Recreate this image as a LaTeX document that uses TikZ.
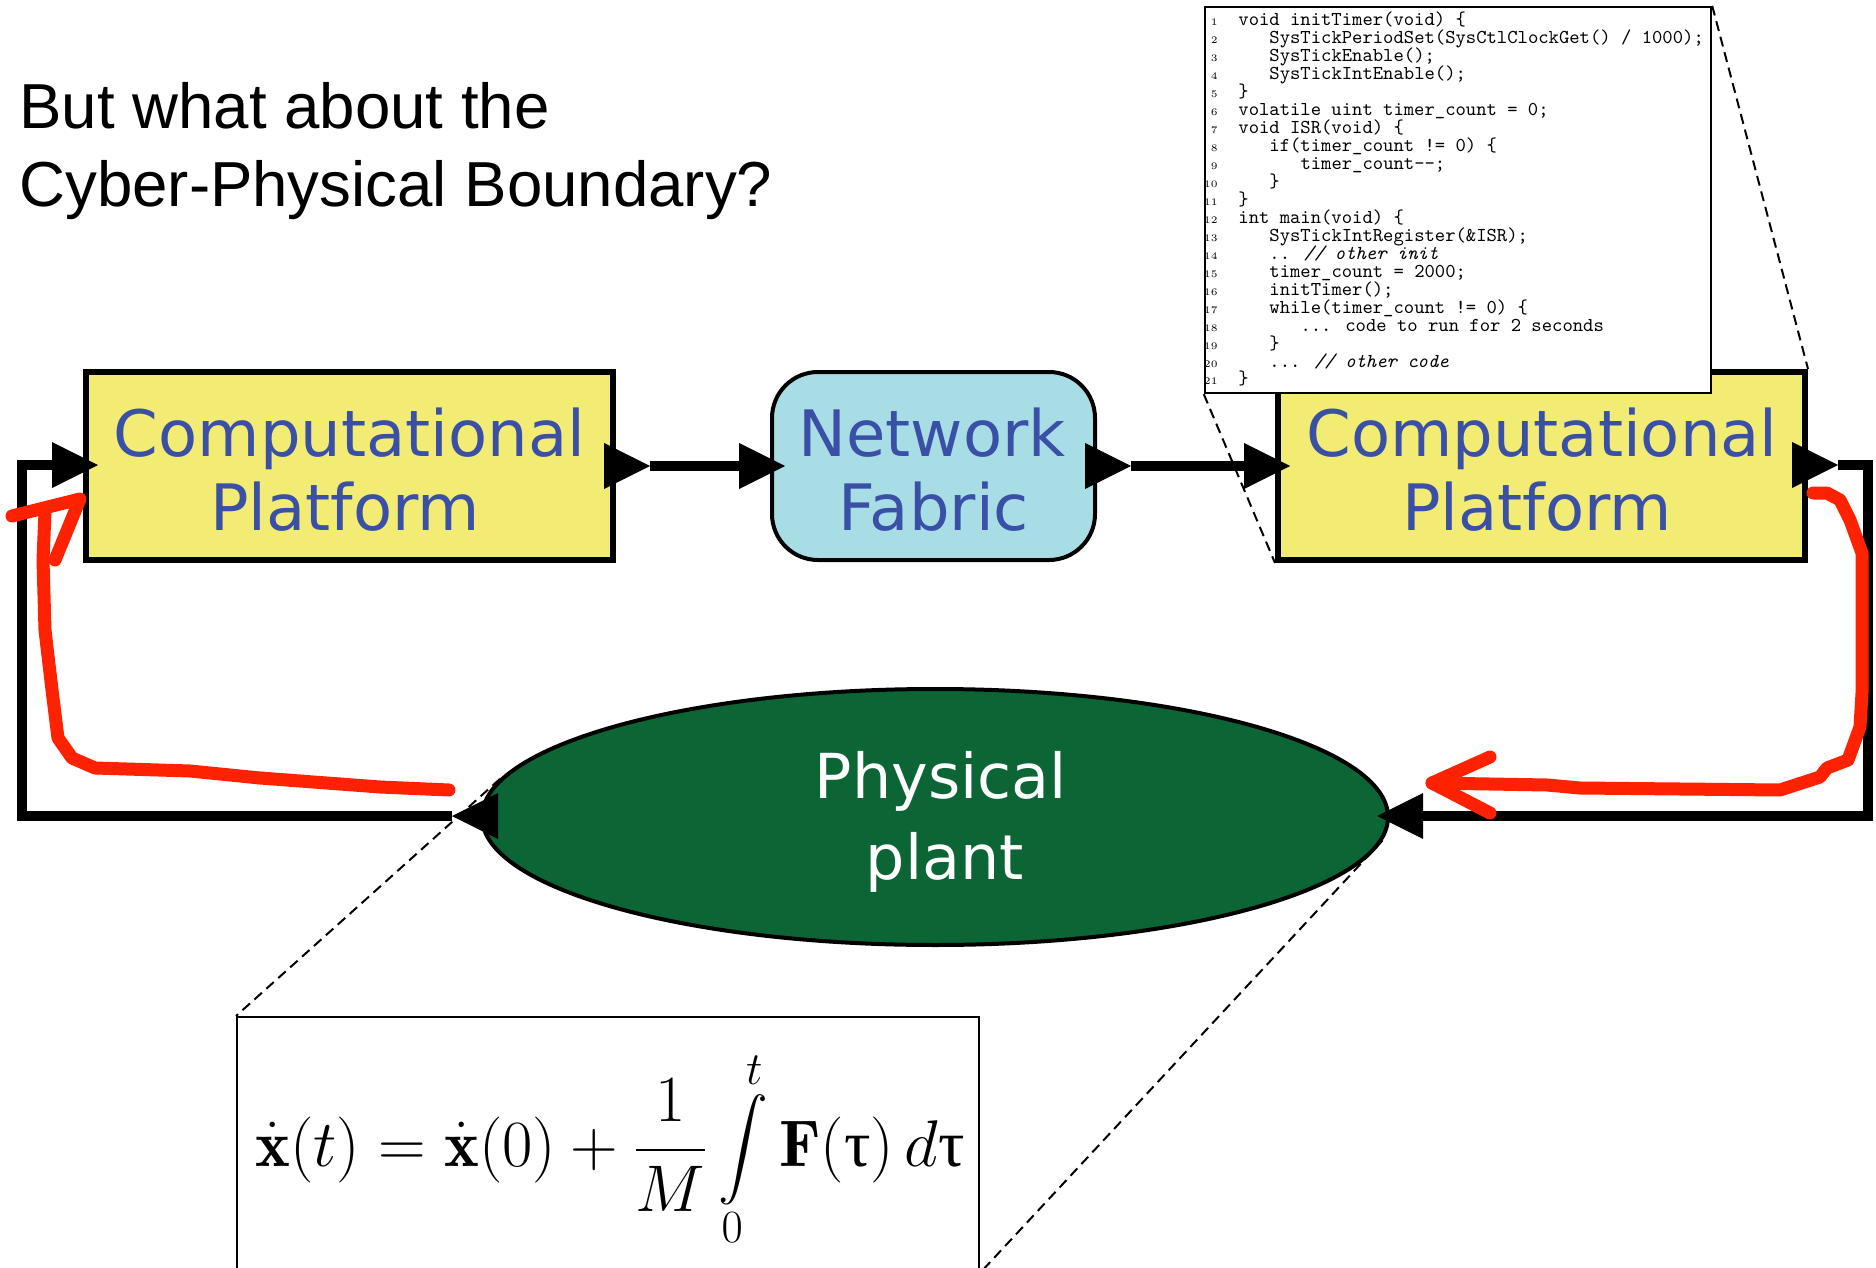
\RequirePackage{fix-cm}
\documentclass[tikz,border=0pt]{standalone}
\usepackage{amsmath}
\usepackage{exscale}
\usepackage{fontspec}
\newfontfamily\boxfont{DejaVu Sans}
\newfontfamily\titlefont{Liberation Sans}
\newfontfamily\grkfont{Liberation Serif}
\usetikzlibrary{shapes.geometric}
\definecolor{cpyellow}{HTML}{F2EC75}
\definecolor{nfblue}{HTML}{A8DDE5}
\definecolor{textblue}{HTML}{3A4FA6}
\definecolor{plantgreen}{HTML}{0B6534}
\definecolor{markred}{HTML}{FF2200}
\newcommand\codefont{\ttfamily\fontsize{9.85}{9.85}\selectfont}
\newcommand\codeln[3]{%
  \node[lnum] (n#1) at (1218, 8+#1*17.95) {#1};
  \node[codeline] (c#1) at (1238+#2*31.05, 8+#1*17.95) {#3};
}
\begin{document}
\begin{tikzpicture}[x=0.5pt,y=-0.5pt,
  cpbox/.style={draw=black, line width=3pt, fill=cpyellow, minimum width=263.5pt, minimum height=94pt, inner sep=0},
  nfbox/.style={draw=black, line width=2pt, fill=nfblue, rounded corners=23pt, minimum width=161.5pt, minimum height=94pt, inner sep=0},
  plantshape/.style={ellipse, draw=black, line width=2pt, fill=plantgreen, minimum width=453pt, minimum height=128pt, inner sep=0},
  boxtext/.style={anchor=base, inner sep=0, text=textblue, font=\boxfont\fontsize{32}{32}\selectfont},
  planttext/.style={anchor=base, inner sep=0, text=white, font=\boxfont\fontsize{31}{31}\selectfont},
  titletext/.style={anchor=base west, inner sep=0, font=\titlefont\fontsize{31.8}{31.8}\selectfont},
  wire/.style={line width=5pt, draw=black},
  zoomline/.style={draw=black, line width=1pt, dash pattern=on 5pt off 3pt},
  redstroke/.style={draw=markred, line width=6.5pt, line cap=round, line join=round},
  codeline/.style={anchor=base west, inner sep=0, font=\codefont},
  lnum/.style={anchor=base east, inner sep=0, font=\fontsize{5}{5}\selectfont},
  portright/.pic={\fill[black] (0,0) -- (-46,-23) -- (-46,23) -- cycle;},
  portleft/.pic={\fill[black] (0,0) -- (46,-23) -- (46,23) -- cycle;},
]
\fill[white] (0,0) rectangle (1876,1268);
\useasboundingbox (0,0) rectangle (1876,1268);

% title
\node[titletext] (t1) at (19,129) {But what about the};
\node[titletext] (t2) at (19,206) {Cyber-Physical Boundary?};

% actors
\node[cpbox] (lcp) at (349.5,466) {};
\node[nfbox] (nf) at (933.5,466) {};
\node[cpbox] (rcp) at (1541.5,466) {};
\node[plantshape] (plant) at (935,817) {};

\node[boxtext] (lcp1) at (349.5,456) {Computational};
\node[boxtext] (lcp2) at (345,530) {Platform};
\node[boxtext] (nf1) at (932,456) {Network};
\node[boxtext] (nf2) at (934,530) {Fabric};
\node[boxtext] (rcp1) at (1542,456) {Computational};
\node[boxtext] (rcp2) at (1537,530) {Platform};
\node[planttext] (pl1) at (941,798) {Physical};
\node[planttext] (pl2) at (945,879) {plant};

% port coordinates
\coordinate (lcpOut) at (650,466);
\coordinate (nfInB) at (739,466);
\coordinate (nfInT) at (785,466);
\coordinate (nfOut) at (1131,466);
\coordinate (rcpInB) at (1244,466);
\coordinate (rcpInT) at (1290,466);
\coordinate (rcpOut) at (1838,465);
\coordinate (rfbA) at (1868,465);
\coordinate (rfbB) at (1868,816);
\coordinate (plantInB) at (1423,816);
\coordinate (plantInT) at (1377,816);
\coordinate (plantOut) at (452,816);
\coordinate (lfbA) at (22,816);
\coordinate (lfbB) at (22,465);
\coordinate (lcpInB) at (52,465);
\coordinate (lcpInT) at (98,465);

% wires
\draw[wire] (lcpOut) -- (nfInB);
\draw[wire] (nfOut) -- (rcpInB);
\draw[wire] (rcpOut) -- (rfbA) -- (rfbB) -- (plantInB);
\draw[wire] (plantOut) -- (lfbA) -- (lfbB) -- (lcpInB);

% ports
\pic (pa) at (lcpOut) {portright};
\pic (pb) at (nfInT) {portright};
\pic (pc) at (nfOut) {portright};
\pic (pd) at (rcpInT) {portright};
\pic (pe) at (rcpOut) {portright};
\pic (pf) at (plantInT) {portleft};
\pic (pg) at (plantOut) {portleft};
\pic (ph) at (lcpInT) {portright};

% code listing
\node[draw=black, line width=1.2pt, fill=white, minimum width=253pt, minimum height=193pt, inner sep=0] (code) at (1458,200) {};
\codeln{1}{0}{void initTimer(void) \{}
\codeln{2}{1}{SysTickPeriodSet(SysCtlClockGet() / 1000);}
\codeln{3}{1}{SysTickEnable();}
\codeln{4}{1}{SysTickIntEnable();}
\codeln{5}{0}{\}}
\codeln{6}{0}{volatile uint timer\_count = 0;}
\codeln{7}{0}{void ISR(void) \{}
\codeln{8}{1}{if(timer\_count != 0) \{}
\codeln{9}{2}{timer\_count-{}-;}
\codeln{10}{1}{\}}
\codeln{11}{0}{\}}
\codeln{12}{0}{int main(void) \{}
\codeln{13}{1}{SysTickIntRegister(\&ISR);}
\codeln{14}{1}{.. \textit{// other init}}
\codeln{15}{1}{timer\_count = 2000;}
\codeln{16}{1}{initTimer();}
\codeln{17}{1}{while(timer\_count != 0) \{}
\codeln{18}{2}{... code to run for 2 seconds}
\codeln{19}{1}{\}}
\codeln{20}{1}{... \textit{// other code}}
\codeln{21}{0}{\}}

\draw[zoomline] (code.north east) -- (rcp.north east);
\draw[zoomline] (code.south west) -- (rcp.south west);

% equation
\node[draw=black, line width=1pt, minimum width=371pt, minimum height=127.5pt, inner sep=0] (eqbox) at (608,1144.5) {};
\node[anchor=base west, inner sep=0, font=\fontsize{33}{33}\selectfont] (eq) at (255,1166)
  {$\displaystyle \dot{\mathbf{x}}(t) = \dot{\mathbf{x}}(0) + \frac{1}{M}\int\limits_{0}^{t} \mathbf{F}(\mbox{\grkfont τ})\,d\mbox{\grkfont τ}$};
\draw[zoomline] (plant.175) -- (eqbox.north west);
\draw[zoomline] (plant.357) -- (eqbox.south east);

% red hand-drawn arrows
\draw[redstroke] (449,790) -- (380,787) -- (260,778) -- (190,771) -- (95,768) -- (72,758) -- (58,738) -- (52,690) -- (45,630) -- (43,560) -- (45,512);
\draw[redstroke] (12,516) -- (80,499) -- (55,560);
\draw[redstroke] (1813,493) -- (1827,493) -- (1840,500) -- (1850,520) -- (1862,553) -- (1862,693) -- (1860,727) -- (1848,760) -- (1827,768) -- (1820,777) -- (1780,790) -- (1580,788) -- (1547,785) -- (1432,783);
\draw[redstroke] (1490,757) -- (1432,783) -- (1490,813);
\end{tikzpicture}
\end{document}
